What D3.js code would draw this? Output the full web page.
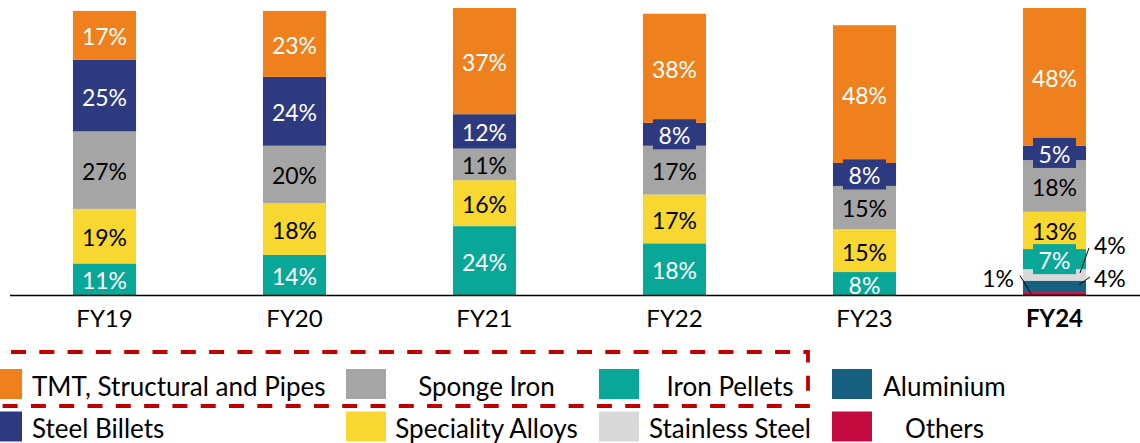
<!DOCTYPE html>
<html>
<head>
<meta charset="utf-8">
<script src="https://cdn.jsdelivr.net/npm/d3@7"></script>
<style>
  body { margin: 0; background: #fff; }
  svg { display: block; font-family: Lato, "Noto Sans", sans-serif; }
</style>
</head>
<body>
<div id="chart"></div>
<script>
var width = 1140;
var height = 443;

// categories and series (bottom to top of each stack)
var categories = ["FY19", "FY20", "FY21", "FY22", "FY23", "FY24"];
var seriesNames = ["Others", "Aluminium", "Stainless Steel", "Iron Pellets",
                   "Speciality Alloys", "Sponge Iron", "Steel Billets", "TMT, Structural and Pipes"];

var others      = [0, 0, 0, 0, 0, 1];
var aluminium   = [0, 0, 0, 0, 0, 4];
var stainless   = [0, 0, 0, 0, 0, 4];
var ironPellets = [11, 14, 24, 18, 8, 7];
var speciality  = [19, 18, 16, 17, 15, 13];
var spongeIron  = [27, 20, 11, 17, 15, 18];
var steelBillets = [25, 24, 12, 8, 8, 5];
var tmt         = [17, 23, 37, 38, 48, 48];

var seriesValues = [others, aluminium, stainless, ironPellets, speciality, spongeIron, steelBillets, tmt];

var colors = {
  "Others": "#C20A3E",
  "Aluminium": "#17607F",
  "Stainless Steel": "#D9D9D9",
  "Iron Pellets": "#09A798",
  "Speciality Alloys": "#F7D730",
  "Sponge Iron": "#A5A5A5",
  "Steel Billets": "#2E3A80",
  "TMT, Structural and Pipes": "#EE801E"
};
var whiteText = { "Iron Pellets": true, "Steel Billets": true, "TMT, Structural and Pipes": true };

// legend rows as in the picture
var legendRow1 = ["TMT, Structural and Pipes", "Sponge Iron", "Iron Pellets", "Aluminium"];
var legendRow2 = ["Steel Billets", "Speciality Alloys", "Stainless Steel", "Others"];

// build rows for the stack
var table = categories.map(function(c, i) {
  var row = { cat: c };
  seriesNames.forEach(function(s, k) { row[s] = seriesValues[k][i]; });
  return row;
});

var stacked = d3.stack().keys(seriesNames)(table);

var svg = d3.select("#chart")
  .append("svg")
  .attr("width", width)
  .attr("height", height);

var x = d3.scaleBand()
  .domain(categories)
  .range([9.5, 1149.5])
  .paddingInner(0.668)
  .paddingOuter(0.334);

var y = d3.scaleLinear()
  .domain([0, 100])
  .range([295, 8]);

// bars
var layers = svg.append("g")
  .selectAll("g")
  .data(stacked)
  .enter()
  .append("g")
  .attr("fill", function(d) { return colors[d.key]; });

layers.selectAll("rect")
  .data(function(d) { return d; })
  .enter()
  .append("rect")
  .attr("x", function(d) { return x(d.data.cat); })
  .attr("y", function(d) { return y(d[1]); })
  .attr("width", x.bandwidth())
  .attr("height", function(d) { return y(d[0]) - y(d[1]); });

// labels
var labelG = svg.append("g");
stacked.forEach(function(layer, k) {
  var key = layer.key;
  layer.forEach(function(d) {
    var v = d[1] - d[0];
    if (v <= 0) return;
    var cx = x(d.data.cat) + x.bandwidth() / 2;
    var cy = (y(d[0]) + y(d[1])) / 2;
    var bottomKey = seriesNames.find(function(s) { return d.data[s] > 0; });

    if (v < 5) {
      // small FY24 slices: outside labels with leader lines
      var segMid = cy;
      var lx1, ly1, lx2, ly2, tx, ty, anchor;
      if (key === "Others") {
        lx1 = x(d.data.cat) + 8; ly1 = segMid;
        lx2 = lx1 - 11; ly2 = segMid - 18;
        tx = lx2 - 6; ty = ly2 + 2; anchor = "end";
      } else if (key === "Aluminium") {
        lx1 = x(d.data.cat) + x.bandwidth() - 7; ly1 = segMid - 1.5;
        lx2 = lx1 + 11; ly2 = segMid - 9.5;
        tx = lx2 + 4; ty = ly2 + 1; anchor = "start";
      } else {
        lx1 = x(d.data.cat) + x.bandwidth() - 6; ly1 = segMid - 2;
        lx2 = lx1 + 9; ly2 = segMid - 27;
        tx = lx2 + 5; ty = segMid - 30; anchor = "start";
      }
      labelG.append("line")
        .attr("x1", lx1).attr("y1", ly1)
        .attr("x2", lx2).attr("y2", ly2)
        .attr("stroke", "#000")
        .attr("stroke-width", 1);
      labelG.append("text")
        .attr("x", tx).attr("y", ty)
        .attr("text-anchor", anchor)
        .attr("dominant-baseline", "central")
        .style("font-size", "23px")
        .attr("fill", "#000")
        .text(v + "%");
      return;
    }

    // label box where the slice is thin and not on the baseline
    if (v <= 8 && key !== bottomKey) {
      labelG.append("rect")
        .attr("x", cx - 21.5)
        .attr("y", cy - 15)
        .attr("width", 43)
        .attr("height", 30)
        .attr("fill", colors[key]);
    }
    labelG.append("text")
      .attr("x", cx).attr("y", cy + 1)
      .attr("text-anchor", "middle")
      .attr("dominant-baseline", "central")
      .style("font-size", "23px")
      .attr("fill", whiteText[key] ? "#fff" : "#000")
      .text(v + "%");
  });
});

// x axis
var xAxis = svg.append("g")
  .attr("transform", "translate(0,295)")
  .call(d3.axisBottom(x).tickSize(0).tickPadding(15));

xAxis.select(".domain")
  .attr("stroke", "#000")
  .attr("stroke-width", 1.6);

xAxis.selectAll("text")
  .style("font-family", "Lato, 'Noto Sans', sans-serif")
  .style("font-size", "24px")
  .attr("fill", "#000")
  .style("font-weight", function(d) { return d === "FY24" ? "bold" : "normal"; });

// legend
var swatchX = [-18, 346, 599, 832];
var textCenter = [null, 486.5, 730, 944.5];
var rowY = [384.5, 427];

[legendRow1, legendRow2].forEach(function(row, r) {
  row.forEach(function(name, c) {
    svg.append("rect")
      .attr("x", swatchX[c])
      .attr("y", rowY[r] - 15.5)
      .attr("width", 40)
      .attr("height", 30)
      .attr("fill", colors[name]);
    svg.append("text")
      .attr("x", c === 0 ? 32 : textCenter[c])
      .attr("y", rowY[r] + 1)
      .attr("text-anchor", c === 0 ? "start" : "middle")
      .attr("dominant-baseline", "central")
      .style("font-size", "26px")
      .attr("fill", "#000")
      .text(name);
  });
});

// dashed box around the first row of the legend
svg.append("path")
  .attr("d", "M11,352 H808 V406 H-2")
  .attr("fill", "none")
  .attr("stroke", "#C00000")
  .attr("stroke-width", 3.8)
  .attr("stroke-dasharray", "15,13.3");
</script>
</body>
</html>
